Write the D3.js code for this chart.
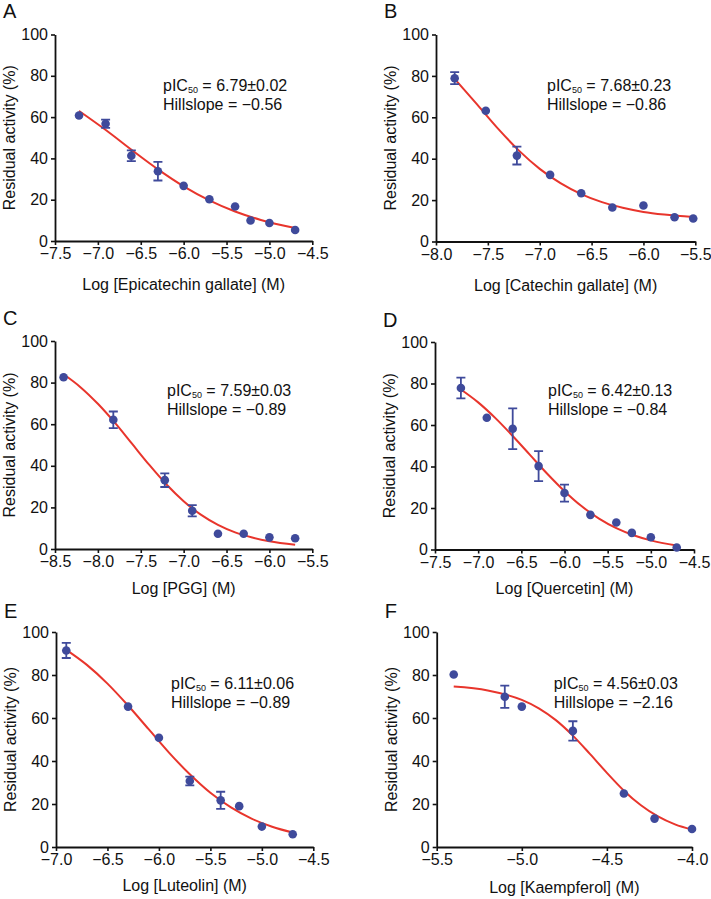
<!DOCTYPE html>
<html><head><meta charset="utf-8">
<script src="https://cdn.jsdelivr.net/npm/d3@7"></script>
<style>
body{margin:0;background:#fff}
svg{display:block;font-family:"Liberation Sans",Arial,Helvetica,sans-serif}
</style>
</head><body>
<svg id="chart" width="711" height="899"></svg>
<script>
// ---------- DATA ----------
const panelLetters = ["A","B","C","D","E","F"];
const compounds = ["Epicatechin gallate","Catechin gallate","PGG","Quercetin","Luteolin","Kaempferol"];
const pic50Labels = ["6.79±0.02","7.68±0.23","7.59±0.03","6.42±0.13","6.11±0.06","4.56±0.03"];
const hillLabels = ["−0.56","−0.86","−0.89","−0.84","−0.89","−2.16"];
const yTicks = [0,20,40,60,80,100];

const xTicksA = [-7.5,-7.0,-6.5,-6.0,-5.5,-5.0,-4.5];
const xTicksB = [-8.0,-7.5,-7.0,-6.5,-6.0,-5.5];
const xTicksC = [-8.5,-8.0,-7.5,-7.0,-6.5,-6.0,-5.5];
const xTicksD = [-7.5,-7.0,-6.5,-6.0,-5.5,-5.0,-4.5];
const xTicksE = [-7.0,-6.5,-6.0,-5.5,-5.0,-4.5];
const xTicksF = [-5.5,-5.0,-4.5,-4.0];

// Epicatechin gallate
const aLogC = [-7.22,-6.91,-6.61,-6.30,-6.00,-5.70,-5.40,-5.22,-5.00,-4.70];
const aAct  = [60.8,56.8,41.3,33.8,26.7,20.2,16.7,9.9,8.7,5.3];
const aErr  = [0,2.0,2.6,4.5,0,0,0,0,0,0];
const aFitX = [-7.22,-6.9,-6.6,-6.3,-6.0,-5.7,-5.4,-5.1,-4.7];
const aFitY = [63.0,53.5,43.9,34.7,26.5,19.7,14.3,10.2,6.3];

// Catechin gallate
const bLogC = [-7.82,-7.52,-7.22,-6.90,-6.60,-6.30,-6.00,-5.70,-5.52];
const bAct  = [78.9,63.2,41.5,32.2,23.3,16.4,17.4,11.7,11.1];
const bErr  = [2.9,0,4.3,0,0,0,0,0,0];
const bFitX = [-7.82,-7.6,-7.4,-7.2,-7.0,-6.8,-6.6,-6.4,-6.2,-6.0,-5.8,-5.52];
const bFitY = [78.6,66.0,54.4,43.9,35.1,28.2,22.9,19.0,16.3,14.3,13.0,11.8];

// PGG
const cLogC = [-8.40,-7.82,-7.22,-6.90,-6.60,-6.30,-6.00,-5.70];
const cAct  = [82.6,62.1,33.1,18.4,7.3,7.3,5.6,5.2];
const cErr  = [0,4.0,3.3,2.7,0,0,0,0];
const cFitX = [-8.4,-8.2,-8.0,-7.8,-7.6,-7.4,-7.2,-7.0,-6.8,-6.6,-6.4,-6.2,-6.0,-5.7];
const cFitY = [84.0,77.7,69.8,60.6,50.5,40.4,31.0,23.0,16.5,11.6,8.0,5.5,3.7,2.0];

// Quercetin
const dLogC = [-7.20,-6.90,-6.60,-6.30,-6.00,-5.70,-5.40,-5.22,-5.00,-4.70];
const dAct  = [77.8,63.5,58.2,40.2,27.2,16.7,13.0,8.0,5.9,1.0];
const dErr  = [5.0,0,9.8,7.2,4.1,0,0,0,0,0];
const dFitX = [-7.2,-7.0,-6.8,-6.6,-6.4,-6.2,-6.0,-5.8,-5.6,-5.4,-5.2,-5.0,-4.7];
const dFitY = [77.1,70.9,63.3,54.7,45.6,36.5,28.1,20.8,14.9,10.3,6.9,4.4,1.9];

// Luteolin
const eLogC = [-6.90,-6.30,-6.00,-5.70,-5.40,-5.22,-5.00,-4.70];
const eAct  = [91.4,65.3,50.8,30.7,21.7,19.0,9.5,5.9];
const eErr  = [3.5,0,0,2.0,4.0,0,0,0];
const eFitX = [-6.9,-6.7,-6.5,-6.3,-6.1,-5.9,-5.7,-5.5,-5.3,-5.1,-4.9,-4.7];
const eFitY = [91.7,84.7,76.0,65.8,54.8,43.8,33.8,25.2,18.4,13.2,9.4,6.7];

// Kaempferol
const fLogC = [-5.40,-5.10,-5.00,-4.70,-4.40,-4.22,-4.00];
const fAct  = [80.2,69.9,65.3,54.0,24.9,13.2,8.4];
const fErr  = [0,5.2,0,4.5,0,0,0];
const fFitX = [-5.4,-5.2,-5.0,-4.9,-4.8,-4.7,-4.6,-4.5,-4.4,-4.3,-4.2,-4.1,-4.0];
const fFitY = [74.6,72.8,68.4,64.5,59.0,51.8,43.3,34.5,26.2,19.4,14.2,10.5,8.1];

// ---------- LAYOUT ----------
const layout = [
  {x0:55,  x1:312.3, yTop:34.5, yBot:241,   titleOff:49, annX:108, annY:91,  letterY:18},
  {x0:436, x1:695.3, yTop:34.5, yBot:241.5, titleOff:49, annX:111, annY:91,  letterY:18},
  {x0:55,  x1:312.3, yTop:341,  yBot:549,   titleOff:45, annX:112, annY:396, letterY:325},
  {x0:435, x1:694,   yTop:342,  yBot:549.5, titleOff:44, annX:113, annY:396, letterY:327},
  {x0:56,  x1:313.3, yTop:632,  yBot:847,   titleOff:44, annX:115, annY:689, letterY:618},
  {x0:436.7,x1:692,  yTop:632,  yBot:847,   titleOff:46, annX:117, annY:689, letterY:618}
];

const panels = [
  {ticks:xTicksA, lx:aLogC, ly:aAct, le:aErr, fx:aFitX, fy:aFitY},
  {ticks:xTicksB, lx:bLogC, ly:bAct, le:bErr, fx:bFitX, fy:bFitY},
  {ticks:xTicksC, lx:cLogC, ly:cAct, le:cErr, fx:cFitX, fy:cFitY},
  {ticks:xTicksD, lx:dLogC, ly:dAct, le:dErr, fx:dFitX, fy:dFitY},
  {ticks:xTicksE, lx:eLogC, ly:eAct, le:eErr, fx:eFitX, fy:eFitY},
  {ticks:xTicksF, lx:fLogC, ly:fAct, le:fErr, fx:fFitX, fy:fFitY}
];

const dotColor = "#3f4a9b";
const curveColor = "#e8352c";
const ink = "#111";
const svg = d3.select("#chart");
const fmt = d3.format(".1f");

panels.forEach((p, i) => {
  const L = layout[i];
  const g = svg.append("g");
  const x = d3.scaleLinear().domain([p.ticks[0], p.ticks[p.ticks.length-1]]).range([L.x0, L.x1]);
  const y = d3.scaleLinear().domain([0,100]).range([L.yBot, L.yTop]);

  // axes
  const xa = g.append("g").attr("transform", `translate(0,${L.yBot})`)
    .call(d3.axisBottom(x).tickValues(p.ticks).tickFormat(fmt).tickSize(4).tickPadding(3).tickSizeOuter(0));
  const ya = g.append("g").attr("transform", `translate(${L.x0},0)`)
    .call(d3.axisLeft(y).tickValues(yTicks).tickSize(4).tickPadding(3).tickSizeOuter(0));
  [xa, ya].forEach(a => {
    a.attr("font-size", 16).attr("font-family", null).attr("color", ink);
    a.selectAll("path.domain").attr("stroke-width", 1.8);
    a.selectAll(".tick line").attr("stroke-width", 1.6);
  });

  // fit curve
  const line = d3.line().x(d => x(d[0])).y(d => y(d[1])).curve(d3.curveMonotoneX);
  g.append("path").datum(d3.zip(p.fx, p.fy)).attr("d", line)
    .attr("fill", "none").attr("stroke", curveColor).attr("stroke-width", 2);

  // error bars
  const pts = p.lx.map((v, k) => ({x: v, y: p.ly[k], e: p.le[k]}));
  const eb = g.append("g").attr("stroke", dotColor).attr("stroke-width", 1.8).attr("fill", "none");
  pts.filter(d => d.e > 0).forEach(d => {
    const cx = x(d.x), yt = y(d.y + d.e), yb = y(d.y - d.e);
    eb.append("path").attr("d", `M${cx},${yt}V${yb}M${cx-4.5},${yt}H${cx+4.5}M${cx-4.5},${yb}H${cx+4.5}`);
  });

  // points
  g.append("g").selectAll("circle").data(pts).join("circle")
    .attr("cx", d => x(d.x)).attr("cy", d => y(d.y)).attr("r", 4.3).attr("fill", dotColor);

  // axis titles
  g.append("text").attr("x", (L.x0 + L.x1) / 2).attr("y", L.yBot + L.titleOff)
    .attr("text-anchor", "middle").attr("font-size", 16).attr("fill", ink)
    .text(`Log [${compounds[i]}] (M)`);
  g.append("text")
    .attr("transform", `translate(${L.x0 - 40},${(L.yTop + L.yBot) / 2}) rotate(-90)`)
    .attr("text-anchor", "middle").attr("font-size", 16).attr("fill", ink)
    .text("Residual activity (%)");

  // annotation
  const ann = g.append("text").attr("x", L.x0 + L.annX).attr("y", L.annY)
    .attr("font-size", 16).attr("fill", ink);
  ann.append("tspan").text("pIC");
  ann.append("tspan").attr("font-size", 9).attr("dy", 2).text("50");
  ann.append("tspan").attr("dy", -2).text(` = ${pic50Labels[i]}`);
  g.append("text").attr("x", L.x0 + L.annX).attr("y", L.annY + 19)
    .attr("font-size", 16).attr("fill", ink).text(`Hillslope = ${hillLabels[i]}`);

  // panel letter
  g.append("text").attr("x", L.x0 - 52).attr("y", L.letterY)
    .attr("font-size", 20).attr("fill", ink).text(panelLetters[i]);
});
</script>
</body></html>
